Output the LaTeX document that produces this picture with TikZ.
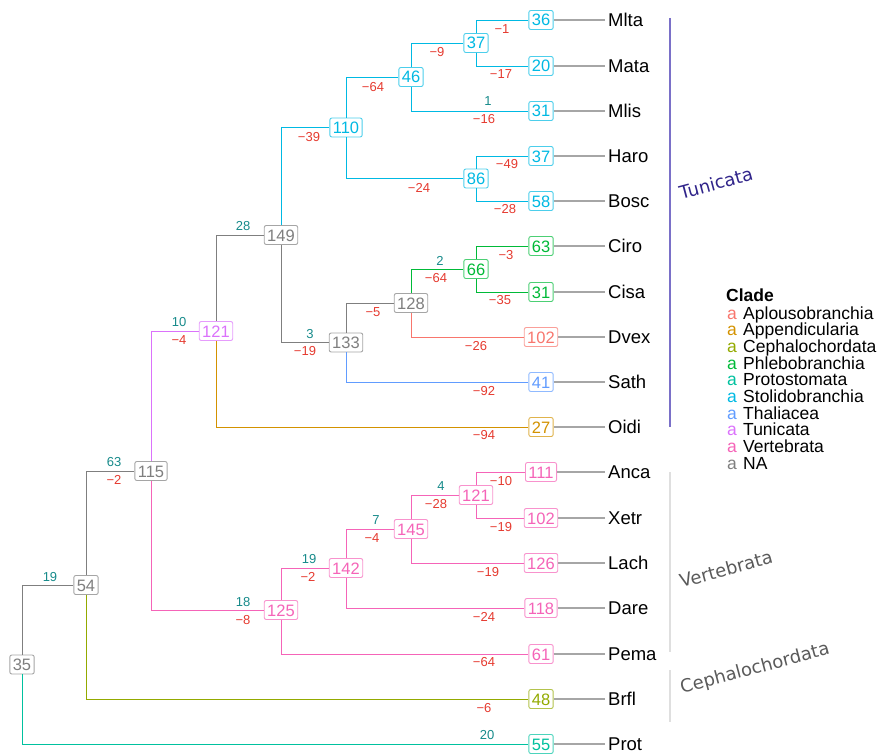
\documentclass[tikz,border=0pt]{standalone}
\usepackage{fontspec}
\setmainfont{Liberation Sans}
\newfontfamily\cladefont{DejaVu Sans}
\definecolor{aplo}{HTML}{F8766D}
\definecolor{appe}{HTML}{D39200}
\definecolor{ceph}{HTML}{93AA00}
\definecolor{phle}{HTML}{00BA38}
\definecolor{prot}{HTML}{00C19F}
\definecolor{stol}{HTML}{00B9E3}
\definecolor{thal}{HTML}{619CFF}
\definecolor{tuni}{HTML}{DB72FB}
\definecolor{vert}{HTML}{F564B8}
\definecolor{nagray}{HTML}{7F7F7F}
\definecolor{gaincol}{HTML}{168A8A}
\definecolor{losscol}{HTML}{E53A2F}
\definecolor{tunibar}{HTML}{7A70C8}
\definecolor{tunitext}{HTML}{30248A}
\definecolor{cladegray}{HTML}{5A5A5A}
\tikzset{
  numbox/.style={draw=#1!70, fill=white, text=#1, rounded corners=2pt, line width=0.9pt,
    inner xsep=3pt, inner ysep=3.5pt, text height=12pt, text depth=0pt,
    font=\fontsize{16.5}{18}\selectfont},
  edge/.style={draw=#1, line width=0.8pt},
  gain/.style={text=gaincol, font=\fontsize{13}{14}\selectfont, inner sep=0pt},
  loss/.style={text=losscol, font=\fontsize{13}{14}\selectfont, inner sep=0pt},
  taxon/.style={anchor=west, font=\fontsize{18.5}{20}\selectfont, inner sep=3pt},
  tipline/.style={draw=gray!70, line width=1.1pt},
  cladelab/.style={rotate=15, font=\cladefont\fontsize{18}{19}\selectfont},
  legtext/.style={inner sep=0pt, text height=11.5pt, text depth=3pt, font=\fontsize{17.5}{18}\selectfont},
}
\begin{document}
\begin{tikzpicture}[x=1pt,y=-1pt]
  \useasboundingbox (0,0) rectangle (890,754);
  % internal nodes
  \node[numbox=nagray] (n35) at (22,664.5) {35};
  \node[numbox=nagray] (n54) at (86,585) {54};
  \node[numbox=nagray] (n115) at (151,471) {115};
  \node[numbox=tuni] (n121t) at (216,331) {121};
  \node[numbox=nagray] (n149) at (281,235) {149};
  \node[numbox=stol] (n110) at (346,127.5) {110};
  \node[numbox=stol] (n46) at (411,77) {46};
  \node[numbox=stol] (n37) at (476,43) {37};
  \node[numbox=stol] (n86) at (476,178.5) {86};
  \node[numbox=nagray] (n133) at (346,342.5) {133};
  \node[numbox=nagray] (n128) at (411,303) {128};
  \node[numbox=phle] (n66) at (476,269) {66};
  \node[numbox=vert] (n125) at (281,610) {125};
  \node[numbox=vert] (n142) at (346,568) {142};
  \node[numbox=vert] (n145) at (411,529) {145};
  \node[numbox=vert] (n121v) at (476,495) {121};
  % tips
  \node[numbox=stol] (bMlta) at (541,20) {36};
  \node[numbox=stol] (bMata) at (541,66) {20};
  \node[numbox=stol] (bMlis) at (541,111) {31};
  \node[numbox=stol] (bHaro) at (541,156) {37};
  \node[numbox=stol] (bBosc) at (541,201) {58};
  \node[numbox=phle] (bCiro) at (541,246) {63};
  \node[numbox=phle] (bCisa) at (541,292) {31};
  \node[numbox=aplo] (bDvex) at (541,337) {102};
  \node[numbox=thal] (bSath) at (541,382) {41};
  \node[numbox=appe] (bOidi) at (541,427) {27};
  \node[numbox=vert] (bAnca) at (541,472) {111};
  \node[numbox=vert] (bXetr) at (541,518) {102};
  \node[numbox=vert] (bLach) at (541,563) {126};
  \node[numbox=vert] (bDare) at (541,608) {118};
  \node[numbox=vert] (bPema) at (541,654) {61};
  \node[numbox=ceph] (bBrfl) at (541,699) {48};
  \node[numbox=prot] (bProt) at (541,744) {55};
  \foreach \t/\y in {Mlta/20,Mata/66,Mlis/111,Haro/156,Bosc/201,Ciro/246,Cisa/292,Dvex/337,
      Sath/382,Oidi/427,Anca/472,Xetr/518,Lach/563,Dare/608,Pema/654,Brfl/699,Prot/744}{
    \node[taxon] (t\t) at (605,\y) {\t};
    \draw[tipline] (b\t) -- (t\t);
  }
  % branches
  \draw[edge=nagray] (n35) |- (n54);
  \draw[edge=prot] (n35) |- (bProt);
  \draw[edge=nagray] (n54) |- (n115);
  \draw[edge=ceph] (n54) |- (bBrfl);
  \draw[edge=tuni] (n115) |- (n121t);
  \draw[edge=vert] (n115) |- (n125);
  \draw[edge=nagray] (n121t) |- (n149);
  \draw[edge=appe] (n121t) |- (bOidi);
  \draw[edge=stol] (n149) |- (n110);
  \draw[edge=nagray] (n149) |- (n133);
  \draw[edge=stol] (n110) |- (n46);
  \draw[edge=stol] (n110) |- (n86);
  \draw[edge=stol] (n46) |- (n37);
  \draw[edge=stol] (n46) |- (bMlis);
  \draw[edge=stol] (n37) |- (bMlta);
  \draw[edge=stol] (n37) |- (bMata);
  \draw[edge=stol] (n86) |- (bHaro);
  \draw[edge=stol] (n86) |- (bBosc);
  \draw[edge=nagray] (n133) |- (n128);
  \draw[edge=thal] (n133) |- (bSath);
  \draw[edge=phle] (n128) |- (n66);
  \draw[edge=aplo] (n128) |- (bDvex);
  \draw[edge=phle] (n66) |- (bCiro);
  \draw[edge=phle] (n66) |- (bCisa);
  \draw[edge=vert] (n125) |- (n142);
  \draw[edge=vert] (n125) |- (bPema);
  \draw[edge=vert] (n142) |- (n145);
  \draw[edge=vert] (n142) |- (bDare);
  \draw[edge=vert] (n145) |- (n121v);
  \draw[edge=vert] (n145) |- (bLach);
  \draw[edge=vert] (n121v) |- (bAnca);
  \draw[edge=vert] (n121v) |- (bXetr);
  % gains and losses
  \node[gain] (g54) at (50,577) {19};
  \node[gain] (gProt) at (487,735) {20};
  \node[loss] (lBrfl) at (484,708) {−6};
  \node[gain] (g115) at (114,462) {63};
  \node[loss] (l115) at (114,480) {−2};
  \node[gain] (g121t) at (179,322) {10};
  \node[loss] (l121t) at (179,340) {−4};
  \node[gain] (g149) at (243,226) {28};
  \node[loss] (l110) at (309,137) {−39};
  \node[loss] (l46) at (373,87) {−64};
  \node[loss] (l37) at (437,52) {−9};
  \node[loss] (lMlta) at (502,29) {−1};
  \node[loss] (lMata) at (501,74) {−17};
  \node[gain] (gMlis) at (488,101) {1};
  \node[loss] (lMlis) at (484,119) {−16};
  \node[loss] (l86) at (419,188) {−24};
  \node[loss] (lHaro) at (507,164) {−49};
  \node[loss] (lBosc) at (505,209) {−28};
  \node[gain] (g133) at (310,334) {3};
  \node[loss] (l133) at (305,351) {−19};
  \node[loss] (l128) at (373,312) {−5};
  \node[gain] (g66) at (440,261) {2};
  \node[loss] (l66) at (436,278) {−64};
  \node[loss] (lCiro) at (506,255) {−3};
  \node[loss] (lCisa) at (500,300) {−35};
  \node[loss] (lDvex) at (476,346) {−26};
  \node[loss] (lSath) at (484,391) {−92};
  \node[loss] (lOidi) at (484,435) {−94};
  \node[gain] (g125) at (243,602) {18};
  \node[loss] (l125) at (243,620) {−8};
  \node[gain] (g142) at (309,559) {19};
  \node[loss] (l142) at (308,577) {−2};
  \node[gain] (g145) at (376,520) {7};
  \node[loss] (l145) at (372,538) {−4};
  \node[gain] (g121v) at (441,486) {4};
  \node[loss] (l121v) at (436,504) {−28};
  \node[loss] (lAnca) at (501,481) {−10};
  \node[loss] (lXetr) at (501,527) {−19};
  \node[loss] (lLach) at (488,572) {−19};
  \node[loss] (lDare) at (484,617) {−24};
  \node[loss] (lPema) at (484,662) {−64};
  % clade bars
  \draw[tunibar, line width=1.3pt] (670,18) -- (670,427);
  \draw[gray!25, line width=1.3pt] (670,472) -- (670,652);
  \draw[gray!25, line width=1.3pt] (670,670) -- (670,722);
  \node[cladelab, text=tunitext] (cTuni) at (716,183) {Tunicata};
  \node[cladelab, text=cladegray] (cVert) at (726,569) {Vertebrata};
  \node[cladelab, text=cladegray] (cCeph) at (755,669) {Cephalochordata};
  % legend
  \node[anchor=west, legtext, font=\bfseries\fontsize{17.5}{18}\selectfont] (legTitle) at (726,297) {Clade};
  \foreach \i/\c/\n in {0/aplo/Aplousobranchia,1/appe/Appendicularia,2/ceph/Cephalochordata,
      3/phle/Phlebobranchia,4/prot/Protostomata,5/stol/Stolidobranchia,6/thal/Thaliacea,
      7/tuni/Tunicata,8/vert/Vertebrata,9/nagray/NA}{
    \node[legtext, text=\c] (key\i) at (732,315+16.67*\i) {a};
    \node[legtext, anchor=west] (leg\i) at (743,315+16.67*\i) {\n};
  }
\end{tikzpicture}
\end{document}
